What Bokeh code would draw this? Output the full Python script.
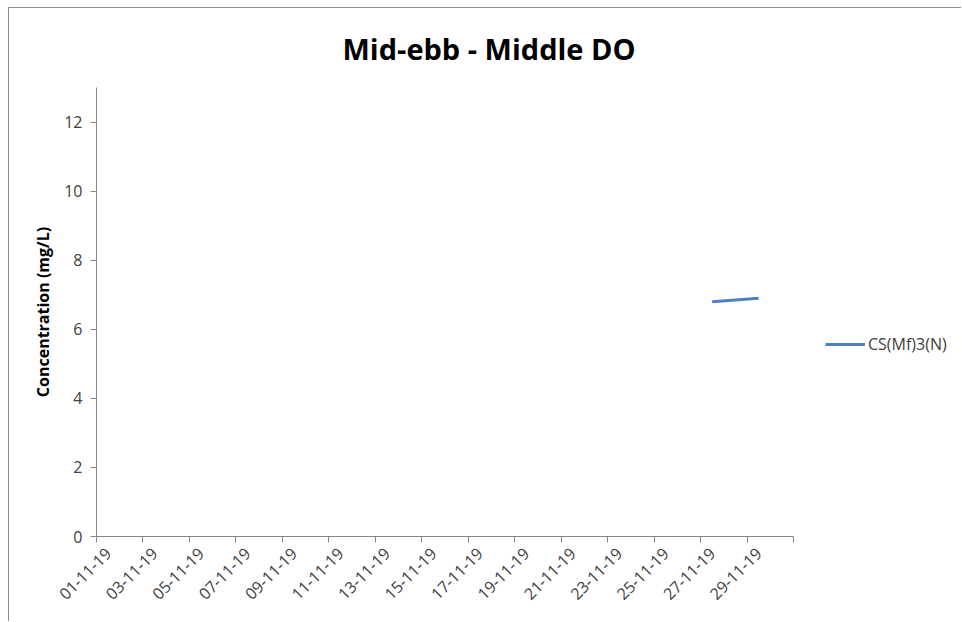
from datetime import datetime
from math import pi
from bokeh.plotting import figure
from bokeh.models import FixedTicker, Legend, LegendItem, ColumnDataSource, Range1d
from bokeh.embed import file_html
from bokeh.resources import INLINE

chart_title = "Mid-ebb - Middle DO"
y_label = "Concentration (mg/L)"
series_name = "CS(Mf)3(N)"
dates = ["27-11-19", "29-11-19"]
values = [6.8, 6.9]
tick_labels = ["01-11-19", "03-11-19", "05-11-19", "07-11-19", "09-11-19",
               "11-11-19", "13-11-19", "15-11-19", "17-11-19", "19-11-19",
               "21-11-19", "23-11-19", "25-11-19", "27-11-19", "29-11-19"]
axis_start = "01-11-19"
axis_end = "01-12-19"
y_ticks = [0, 2, 4, 6, 8, 10, 12]
y_max = 13

FONT = "Open Sans"
start = datetime.strptime(axis_start, "%d-%m-%y")


def day_index(s):
    return (datetime.strptime(s, "%d-%m-%y") - start).days


n_days = day_index(axis_end)
xs = [day_index(s) for s in dates]
label_pos = [day_index(s) for s in tick_labels]
boundaries = [b - 0.5 for b in range(0, n_days + 1, 2)]

# layout (pixels): axis spans 697 px; the frame extends further right to hold the legend
FIG_W, FIG_H = 953, 614
AXIS_PX = 697
FRAME_LEFT, FRAME_RIGHT = 87, 951
px_per_day = AXIS_PX / n_days
x_end = -0.5 + (FRAME_RIGHT - FRAME_LEFT) / px_per_day

src = ColumnDataSource(dict(x=xs, y=values))

p = figure(width=FIG_W, height=FIG_H, output_backend="svg", toolbar_location=None,
           x_range=Range1d(-0.5, x_end), y_range=Range1d(0, y_max),
           min_border_left=FRAME_LEFT, min_border_right=FIG_W - FRAME_RIGHT,
           min_border_top=79, min_border_bottom=86)
p.styles = {"margin-left": "8px", "margin-top": "7px",
            "border-left": "1px solid #8c8c8c", "border-top": "1px solid #8c8c8c"}
p.outline_line_color = None
p.xgrid.visible = False
p.ygrid.visible = False

p.title.text = chart_title
p.title.text_font = FONT
p.title.text_font_style = "bold"
p.title.text_font_size = "29px"
p.title.vertical_align = "top"
p.title.align = "left"
p.title.offset = 246
p.title.standoff = 35
p.title.text_color = "#000000"

r = p.line("x", "y", source=src, line_color="#4F81BD", line_width=3)

xa = p.xaxis[0]
xa.bounds = (-0.5, n_days - 0.5)
xa.ticker = FixedTicker(ticks=label_pos, minor_ticks=boundaries)
xa.major_label_overrides = {pos: lab for pos, lab in zip(label_pos, tick_labels)}
xa.major_label_orientation = pi / 4
xa.major_tick_out = 0
xa.major_tick_in = 0
xa.minor_tick_out = 6
xa.minor_tick_in = 0
xa.minor_tick_line_color = "#868686"
xa.axis_line_color = "#868686"
xa.major_label_text_font = FONT
xa.major_label_text_font_size = "16px"
xa.major_label_text_color = "#404040"
xa.major_label_standoff = 8

ya = p.yaxis[0]
ya.ticker = FixedTicker(ticks=y_ticks)
ya.major_tick_out = 6
ya.major_tick_in = 0
ya.minor_tick_line_color = None
ya.major_tick_line_color = "#868686"
ya.axis_line_color = "#868686"
ya.major_label_text_font = FONT
ya.major_label_text_font_size = "16px"
ya.major_label_text_color = "#404040"
ya.major_label_standoff = 8
ya.axis_label = y_label
ya.axis_label_text_font = FONT
ya.axis_label_text_font_style = "bold"
ya.axis_label_text_font_size = "16px"
ya.axis_label_text_color = "#000000"
ya.axis_label_standoff = 7

legend = Legend(items=[LegendItem(label=series_name, renderers=[r])],
                location=(729, 181), padding=0, margin=0,
                border_line_alpha=0, background_fill_alpha=0,
                glyph_width=40, glyph_height=20, label_height=20,
                label_standoff=3, label_text_font=FONT,
                label_text_font_size="16px", label_text_color="#404040")
p.add_layout(legend, "center")

open("out.html", "w").write(file_html(p, INLINE))
